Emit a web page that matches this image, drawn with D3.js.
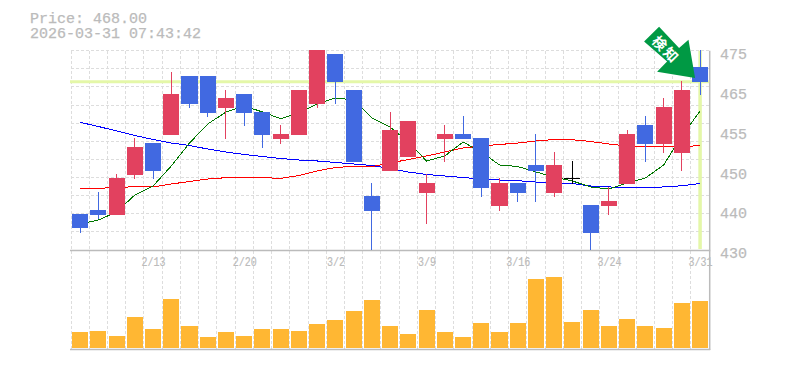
<!DOCTYPE html>
<html>
<head>
<meta charset="utf-8">
<script src="https://cdnjs.cloudflare.com/ajax/libs/d3/7.8.5/d3.min.js"></script>
<style>
  html, body { margin: 0; padding: 0; background: #fff; }
  svg { display: block; }
  text { font-family: "Liberation Mono", monospace; fill: #bbb; stroke: #bbb; stroke-width: 0.25px; }
</style>
</head>
<body>
<script>
// chart values
var dates = ["2/6","2/9","2/10","2/12","2/13","2/16","2/17","2/18","2/19","2/20","2/24","2/25","2/26","2/27","3/2","3/3","3/4","3/5","3/6","3/9","3/10","3/11","3/12","3/13","3/16","3/17","3/18","3/19","3/23","3/24","3/25","3/26","3/27","3/30","3/31"];
var dateLabels = ["2/13","2/20","3/2","3/9","3/16","3/24","3/31"];

var opens  = [438.1,439.0,437.9,446.9,454.2,456.0,469.3,469.3,462.1,465.2,461.2,455.1,456.0,463.0,474.3,466.1,442.2,447.8,451.0,442.9,455.1,456.2,455.3,439.9,445.1,449.2,442.9,446.2,440.2,439.9,444.9,458.2,453.9,451.9,471.3];
var closes = [435.0,437.9,446.3,453.3,447.8,465.2,463.0,460.9,464.3,460.9,456.0,456.2,466.1,475.1,467.9,449.9,438.8,457.1,459.1,445.1,456.2,455.1,444.0,445.1,442.9,447.8,449.2,446.2,433.8,441.1,456.2,453.9,462.3,466.1,468.0];
var highs  = [438.1,443.1,447.2,455.3,454.2,470.2,469.3,469.3,466.1,465.2,461.2,458.2,466.1,475.1,474.3,466.1,445.1,461.2,459.1,447.2,458.2,460.3,455.3,446.3,445.1,456.2,452.1,450.1,440.2,444.2,457.1,460.3,464.3,468.2,475.1];
var lows   = [433.9,437.0,437.9,446.1,446.1,456.0,462.1,460.0,455.1,458.0,453.1,453.9,456.0,462.1,463.0,449.9,430.0,447.8,451.0,435.9,449.9,455.1,442.0,438.8,440.8,440.8,442.0,444.9,430.0,437.9,444.9,449.9,451.9,447.8,465.0];

var maShort = [435.87,436.77,438.58,442.42,444.45,448.97,454.16,458.45,461.16,462.52,461.16,459.65,460.93,462.97,464.32,463.87,459.81,457.77,454.39,450.1,451.23,454.39,452.13,449.19,448.85,447.61,446.48,445.58,444.23,443.77,445.13,446.26,449.19,455.74,461.39];
var maMid = [443.93,443.93,444.11,444.29,444.23,444.9,445.47,446.03,446.33,446.33,446.33,446.19,446.82,447.84,448.63,448.9,448.81,449.64,450.43,451.23,452.13,453.03,453.48,453.82,454.16,454.61,454.95,454.9,454.5,453.93,453.48,453.26,453.26,453.37,453.55];
var maLong = [458.83,457.89,456.87,455.85,454.95,454.16,453.6,452.8,452.13,451.56,451.11,450.66,450.32,450.1,449.76,449.42,449.08,448.4,447.61,447.05,446.71,446.37,446.03,445.81,445.65,445.35,445.2,445.02,444.45,444.23,444.16,444.16,444.23,444.5,445.02];

var volumes = [160,170,120,310,190,490,220,110,160,120,190,190,170,240,280,370,480,220,140,380,160,110,250,160,250,690,710,260,380,220,290,220,200,450,470];

var priceTicks = [430,439,448,457,466,475];
var priceTickLabels = ["430","440","450","455","465","475"];
var price = 468.00;
var stamp = "2026-03-31 07:43:42";
var alertText = "検知";

var width = 785, height = 370;
var left = 71, right = 709.2;
var priceTop = 50.7, priceBottom = 250;
var volTop = 248, volBottom = 348;

var svg = d3.select("body").append("svg")
    .attr("width", width)
    .attr("height", height);

var x = d3.scaleBand()
    .domain(dates)
    .range([left, right])
    .paddingInner(0.12)
    .paddingOuter(0.06);
var y = d3.scaleLinear().domain([430, 475]).range([priceBottom, priceTop]);
var yVol = d3.scaleLinear().domain([0, 1000]).range([volBottom, volTop]);

function cx(d) { return x(d) + x.bandwidth() / 2; }

// dashed grid, one vertical per candle boundary
var gridColor = "#ddd";
var slots = dates.map(function(d) { return x(d) - x.step() * 0.06; });
svg.append("g").attr("shape-rendering", "crispEdges").selectAll("line").data(slots).enter().append("line")
    .attr("x1", function(d) { return d; })
    .attr("x2", function(d) { return d; })
    .attr("y1", priceTop).attr("y2", 350)
    .attr("stroke", gridColor).attr("stroke-dasharray", "3,2");

// 11 bands in the price panel
var rows = d3.range(0, 11).map(function(i) { return 475 - i * 45 / 11; });
svg.append("g").attr("shape-rendering", "crispEdges").selectAll("line").data(rows).enter().append("line")
    .attr("x1", left).attr("x2", right)
    .attr("y1", function(d) { return y(d); })
    .attr("y2", function(d) { return y(d); })
    .attr("stroke", gridColor).attr("stroke-dasharray", "3,2");

// frame
svg.append("line").attr("x1", left - 1).attr("x2", right + 1).attr("y1", priceBottom + 0.5).attr("y2", priceBottom + 0.5)
    .attr("stroke", "#bbb").attr("stroke-width", 1.5);
svg.append("line").attr("x1", left - 1).attr("x2", right + 1).attr("y1", 349.5).attr("y2", 349.5)
    .attr("stroke", "#bbb").attr("stroke-width", 1.5);
svg.append("line").attr("x1", right + 0.5).attr("x2", right + 0.5).attr("y1", priceTop).attr("y2", 350)
    .attr("stroke", "#bbb").attr("stroke-width", 1.5);

// current price cross
var last = dates[dates.length - 1];
svg.append("line").attr("x1", left - 1).attr("x2", right)
    .attr("y1", y(price)).attr("y2", y(price))
    .attr("stroke", "#e4f7a8").attr("stroke-width", 3);
svg.append("line").attr("x1", cx(last)).attr("x2", cx(last))
    .attr("y1", priceTop).attr("y2", 249)
    .attr("stroke", "#e4f7a8").attr("stroke-width", 3.5);

// moving averages
var line = d3.line()
    .x(function(d, i) { return cx(dates[i]); })
    .y(function(d) { return y(d); });
var maGroup = svg.append("g").attr("shape-rendering", "crispEdges").attr("fill", "none");
maGroup.append("path").attr("d", line(maLong)).attr("stroke", "#0000ff");
maGroup.append("path").attr("d", line(maMid)).attr("stroke", "#ff0000");
maGroup.append("path").attr("d", line(maShort)).attr("stroke", "#007700");

// candles
var upColor = "#e2415f", downColor = "#4169e1";
function candleColor(i) {
  if (opens[i] === closes[i]) return "#000";
  return closes[i] > opens[i] ? upColor : downColor;
}
var candles = svg.append("g").attr("shape-rendering", "crispEdges").selectAll("g").data(dates).enter().append("g");
candles.append("line")
    .attr("x1", function(d) { return cx(d); })
    .attr("x2", function(d) { return cx(d); })
    .attr("y1", function(d, i) { return y(highs[i]); })
    .attr("y2", function(d, i) { return y(lows[i]); })
    .attr("stroke", function(d, i) { return candleColor(i); });
candles.append("rect")
    .attr("x", function(d) { return x(d); })
    .attr("width", x.bandwidth())
    .attr("y", function(d, i) { return y(Math.max(opens[i], closes[i])); })
    .attr("height", function(d, i) { return Math.max(1, y(Math.min(opens[i], closes[i])) - y(Math.max(opens[i], closes[i]))); })
    .attr("fill", function(d, i) { return candleColor(i); });

// volume
svg.append("g").attr("shape-rendering", "crispEdges").selectAll("rect").data(volumes).enter().append("rect")
    .attr("x", function(d, i) { return x(dates[i]); })
    .attr("width", x.bandwidth())
    .attr("y", function(d) { return yVol(d); })
    .attr("height", function(d) { return volBottom - yVol(d); })
    .attr("fill", "#ffb733");

// arrow, hung off the last price
var tipX = cx(last) - 5, tipY = y(price) - 3.7;
var arrow = svg.append("g").attr("transform", "translate(" + tipX + "," + tipY + ")");
arrow.append("path")
    .attr("d", "M0,0 L-38,-6.3 L-28,-16.6 L-51,-36.6 L-36,-51.3 L-16,-30 L-6.6,-38.3 Z")
    .attr("fill", "#009944");
arrow.append("text")
    .attr("transform", "translate(-28.6,-28.8) rotate(46)")
    .attr("text-anchor", "middle")
    .attr("dominant-baseline", "central")
    .style("font-family", "'Noto Sans CJK JP'")
    .style("font-size", "14px")
    .style("letter-spacing", "2px")
    .style("font-weight", "700")
    .style("fill", "#fff")
    .style("stroke", "none")
    .text(alertText);

// axes as text
var yAxis = d3.axisRight(y).tickValues(priceTicks)
    .tickFormat(function(d, i) { return priceTickLabels[i]; })
    .tickSize(0).tickPadding(0);
var yg = svg.append("g").attr("transform", "translate(720,3)").call(yAxis);
yg.select(".domain").remove();
yg.selectAll("text").style("font-family", "'Liberation Mono', monospace").style("font-size", "15px").attr("fill", "#bbb");

var xAxis = d3.axisBottom(x).tickValues(dateLabels).tickSize(0).tickPadding(0);
var xg = svg.append("g").attr("transform", "translate(0.5,257)").call(xAxis);
xg.select(".domain").remove();
xg.selectAll("text")
    .style("font-family", "'Liberation Mono', monospace")
    .style("font-size", "13px")
    .style("stroke-width", "0.2px")
    .attr("fill", "#bbb")
    .attr("textLength", function(d) { return d.length * 6; })
    .attr("lengthAdjust", "spacingAndGlyphs");

// header, 14px squeezed out to the 9px character pitch of the original
var priceText = "Price: " + price.toFixed(2);
svg.append("text").attr("x", 30).attr("y", 22.5).style("font-size", "14px")
    .attr("textLength", priceText.length * 9).attr("lengthAdjust", "spacingAndGlyphs").text(priceText);
svg.append("text").attr("x", 30).attr("y", 38).style("font-size", "14px")
    .attr("textLength", stamp.length * 9).attr("lengthAdjust", "spacingAndGlyphs").text(stamp);
</script>
</body>
</html>
